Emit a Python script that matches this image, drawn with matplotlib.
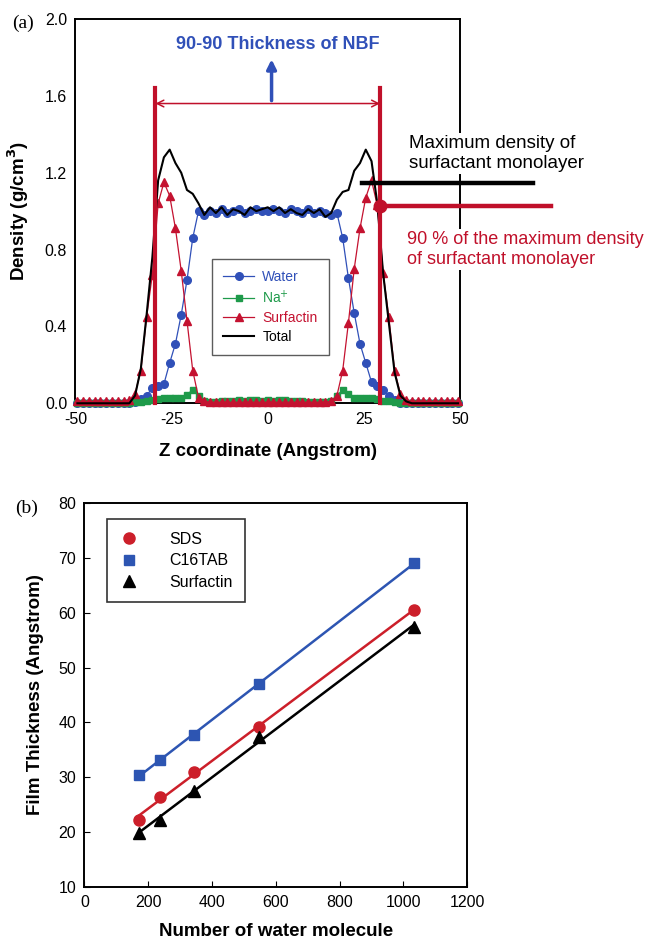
import numpy as np
import matplotlib
matplotlib.use("Agg")
import matplotlib.pyplot as plt

plt.rcParams['font.family'] = ['Liberation Sans', 'DejaVu Sans']
plt.rcParams['axes.unicode_minus'] = False

# ---- panel (a): density profiles across the film ----
z = [-49.5, -48.0, -46.5, -45.0, -43.5, -42.0, -40.5, -39.0, -37.5,
     -36.0, -34.5, -33.0, -31.5, -30.0, -28.5, -27.0, -25.5, -24.0, -22.5, -21.0, -19.5, -18.0, -16.5,
     -15.0, -13.5, -12.0, -10.5, -9.0, -7.5, -6.0, -4.5, -3.0, -1.5, 0.0,
     1.5, 3.0, 4.5, 6.0, 7.5, 9.0, 10.5, 12.0, 13.5, 15.0,
     16.5, 18.0, 19.5, 21.0, 22.5, 24.0, 25.5, 27.0, 28.5, 30.0, 31.5, 33.0, 34.5, 36.0,
     37.5, 39.0, 40.5, 42.0, 43.5, 45.0, 46.5, 48.0, 49.5]

water = [0, 0, 0, 0, 0, 0, 0, 0, 0,
         0, 0.005, 0.02, 0.04, 0.08, 0.09, 0.10, 0.21, 0.31, 0.46, 0.64, 0.86, 1.00, 0.98,
         1.00, 0.99, 1.01, 0.99, 1.00, 1.01, 0.99, 1.00, 1.01, 1.00, 1.00,
         1.01, 1.00, 0.99, 1.01, 1.00, 0.99, 1.01, 0.99, 1.00, 0.99,
         0.98, 0.99, 0.86, 0.65, 0.47, 0.31, 0.21, 0.11, 0.09, 0.07, 0.04, 0.015, 0.0, 0,
         0, 0, 0, 0, 0, 0, 0, 0, 0]

sodium = [0, 0, 0, 0, 0, 0, 0, 0, 0,
          0, 0.005, 0.008, 0.01, 0.015, 0.02, 0.03, 0.03, 0.025, 0.03, 0.045, 0.07, 0.04, 0.012,
          0.005, 0.008, 0.01, 0.012, 0.01, 0.015, 0.012, 0.015, 0.015, 0.012, 0.015,
          0.012, 0.015, 0.015, 0.01, 0.012, 0.01, 0.008, 0.006, 0.005, 0.005,
          0.012, 0.04, 0.07, 0.05, 0.03, 0.025, 0.03, 0.03, 0.02, 0.012, 0.01, 0.006, 0.003, 0,
          0, 0, 0, 0, 0, 0, 0, 0, 0]

surfactin = [0.01, 0.01, 0.01, 0.01, 0.01, 0.01, 0.01, 0.01, 0.01,
             0.015, 0.05, 0.17, 0.45, 0.67, 1.04, 1.15, 1.08, 0.91, 0.69, 0.43, 0.17, 0.03, 0.01,
             0.005, 0.005, 0.005, 0.005, 0.005, 0.005, 0.005, 0.005, 0.005, 0.005, 0.005,
             0.005, 0.005, 0.005, 0.005, 0.005, 0.005, 0.005, 0.005, 0.005, 0.005,
             0.01, 0.04, 0.17, 0.42, 0.70, 0.91, 1.07, 1.16, 1.03, 0.68, 0.45, 0.17, 0.05, 0.015,
             0.01, 0.01, 0.01, 0.01, 0.01, 0.01, 0.01, 0.01, 0.01]

total = [0, 0, 0, 0, 0, 0, 0, 0, 0,
         0.0, 0.04, 0.18, 0.46, 0.76, 1.16, 1.28, 1.32, 1.25, 1.20, 1.11, 1.09, 1.04, 0.98,
         1.02, 0.99, 1.02, 0.98, 1.01, 1.00, 0.98, 1.02, 1.00, 1.01, 1.02,
         1.00, 1.02, 0.99, 1.01, 0.99, 0.98, 1.01, 0.99, 1.01, 0.97,
         0.99, 1.06, 1.10, 1.11, 1.21, 1.25, 1.32, 1.26, 1.04, 0.68, 0.42, 0.16, 0.04, 0.01,
         0, 0, 0, 0, 0, 0, 0, 0, 0]

# annotation values for panel (a)
nbf_edges = [-29.2, 29.2]
max_density = 1.145
ninety_density = 1.028

# ---- panel (b): film thickness vs number of water molecules ----
n_water = [170, 236, 345, 546, 1033]
sds = [22.3, 26.4, 31.0, 39.1, 60.5]
c16tab = [30.4, 33.1, 37.7, 47.0, 69.0]
surf_thick = [19.9, 22.2, 27.5, 37.4, 57.4]

blue = '#3050B8'
green = '#1E9A4A'
red = '#C41230'
ann_red = '#C0102A'

fig = plt.figure(figsize=(6.54, 9.44), dpi=100)

# ================= (a) =================
ax = fig.add_axes([0.1154, 0.5728, 0.5879, 0.4071])
ax.plot(z, water, color=blue, lw=0.9, marker='o', ms=5.5, mec=blue, mfc=blue,
        label='Water', clip_on=False, zorder=3)
ax.plot(z, sodium, color=green, lw=0.9, marker='s', ms=4.5, mec=green, mfc=green,
        label='Na$^{+}$', clip_on=False, zorder=3)
ax.plot(z, surfactin, color=red, lw=0.9, marker='^', ms=6, mec=red, mfc=red,
        label='Surfactin', clip_on=False, zorder=4)
ax.plot(z, total, color='black', lw=1.5, label='Total', clip_on=False, zorder=5)

ax.set_xlim(-50, 50)
ax.set_ylim(0, 2.0)
ax.set_xticks([-50, -25, 0, 25, 50])
ax.set_yticks([0, 0.4, 0.8, 1.2, 1.6, 2.0])
ax.set_yticklabels(['0.0', '0.4', '0.8', '1.2', '1.6', '2.0'])
ax.tick_params(labelsize=11.5, direction='in', length=0, pad=6)
for s in ax.spines.values():
    s.set_linewidth(1.4)
ax.set_xlabel('Z coordinate (Angstrom)', fontsize=13.5, fontweight='bold', labelpad=12)
ax.set_ylabel(r'Density (g/cm$^\mathbf{3}$)', fontsize=13.5, fontweight='bold', labelpad=10)

leg = ax.legend(loc='upper left', bbox_to_anchor=(0.356, 0.3755), borderaxespad=0,
                fontsize=10, frameon=True, fancybox=False, handlelength=2.2,
                handletextpad=0.6, labelspacing=0.35, borderpad=0.8)
leg.get_frame().set_edgecolor('#333333')
leg.get_frame().set_linewidth(1.0)
for txt, c in zip(leg.get_texts(), [blue, green, red, 'black']):
    txt.set_color(c)

# thickness markers
for xe in nbf_edges:
    ax.plot([xe, xe], [0, 1.64], color=ann_red, lw=3, clip_on=False, zorder=6)
ax.annotate('', xy=(nbf_edges[0], 1.56), xytext=(nbf_edges[1], 1.56),
            arrowprops=dict(arrowstyle='<->', color=ann_red, lw=1.1, shrinkA=0, shrinkB=0,
                            mutation_scale=12), zorder=6)
ax.annotate('', xy=(1.0, 1.79), xytext=(1.0, 1.575),
            arrowprops=dict(arrowstyle='-|>', color=blue, lw=2.5, shrinkA=0, shrinkB=0,
                            mutation_scale=14), zorder=6)
ax.text(2.7, 1.865, '90-90 Thickness of NBF', color=blue, fontsize=13, fontweight='bold',
        ha='center', va='center')

# max density and 90% lines
ax.plot([24.5, 69], [max_density, max_density], color='black', lw=3.2, clip_on=False, zorder=7)
ax.plot([nbf_edges[1], 73.8], [ninety_density, ninety_density], color=ann_red, lw=3.2,
        clip_on=False, zorder=7)
ax.plot([nbf_edges[1]], [ninety_density], 'o', color=ann_red, ms=9, clip_on=False, zorder=8)

ax.text(36.8, 1.30, 'Maximum density of\nsurfactant monolayer', fontsize=13.5, color='black',
        ha='left', va='center', linespacing=1.2,
        bbox=dict(fc='white', ec='none', pad=1.5), zorder=9)
ax.text(36.1, 0.80, '90 % of the maximum density\nof surfactant monolayer', fontsize=13,
        color=ann_red, ha='left', va='center', linespacing=1.2,
        bbox=dict(fc='white', ec='none', pad=1.5), zorder=9)

fig.text(23 / 654, 1 - 23 / 944, '(a)', fontsize=14, family='Liberation Serif',
         ha='center', va='center')

# ================= (b) =================
bx = fig.add_axes([0.1292, 0.0604, 0.5849, 0.4068])
series = [(sds, 'SDS', '#CC1F2A', 'o', 8),
          (c16tab, 'C16TAB', '#2D55B2', 's', 7),
          (surf_thick, 'Surfactin', 'black', '^', 8)]
nw = np.array(n_water)
for vals, lab, col, mk, ms in series:
    bx.plot(n_water, vals, linestyle='none', marker=mk, ms=ms, color=col, label=lab, zorder=4)
    k, b = np.polyfit(nw, np.array(vals), 1)
    bx.plot(nw[[0, -1]], k * nw[[0, -1]] + b, color=col, lw=1.8, zorder=3)

bx.set_xlim(0, 1200)
bx.set_ylim(10, 80)
bx.set_xticks(range(0, 1201, 200))
bx.set_yticks(range(10, 81, 10))
bx.tick_params(labelsize=11.5, direction='in', length=4, pad=6)
for s in bx.spines.values():
    s.set_linewidth(1.4)
bx.set_xlabel('Number of water molecule', fontsize=13.5, fontweight='bold', labelpad=9)
bx.set_ylabel('Film Thickness (Angstrom)', fontsize=13.5, fontweight='bold', labelpad=10)

leg2 = bx.legend(loc='upper left', bbox_to_anchor=(0.058, 0.958), borderaxespad=0,
                 fontsize=11.5, frameon=True, fancybox=False, handlelength=1.2,
                 handletextpad=1.9, labelspacing=0.4, borderpad=0.8)
leg2.get_frame().set_edgecolor('black')
leg2.get_frame().set_linewidth(1.2)

fig.text(27 / 654, 1 - 508 / 944, '(b)', fontsize=14, family='Liberation Serif',
         ha='center', va='center')

fig.savefig('out.png', dpi=100)
